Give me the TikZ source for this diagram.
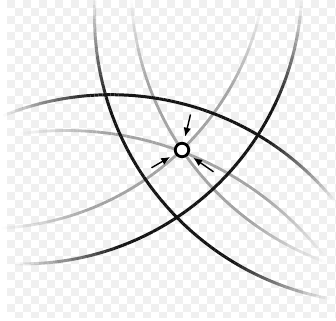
\documentclass[tikz,border=0pt]{standalone}
\usetikzlibrary{arrows.meta}
\newcommand{\fadearc}[7]{% cx, cy, r, a1, a2, style, max opacity
  \foreach \i in {0,...,89}{%
    \pgfmathsetmacro{\ta}{#4+(#5-#4)*\i/90}%
    \pgfmathsetmacro{\tb}{#4+(#5-#4)*(\i+1)/90}%
    \pgfmathsetmacro{\tm}{(\i+0.5)/90}%
    \pgfmathsetmacro{\op}{#7*min(1,min(4*\tm,4*(1-\tm)))}%
    \draw[#6, opacity=\op] ({#1+#3*cos(\ta)},{#2+#3*sin(\ta)}) -- ({#1+#3*cos(\tb)},{#2+#3*sin(\tb)});
  }%
}
\begin{document}
\begin{tikzpicture}[x=1pt,y=-1pt,
  chk/.style={fill=black!6},
  blk/.style={draw=black!92, line width=3pt, line cap=butt},
  gry/.style={draw=black!36, line width=2.8pt, line cap=butt},
  dot/.style={circle, draw=black, fill=white, line width=2.8pt, inner sep=0pt, minimum size=13.5pt},
  arr/.style={line width=1.4pt, -{Latex[length=9pt,width=7.5pt]}, shorten >=5.5pt}]
\useasboundingbox (0,0) rectangle (336,320);
% checker background
\fill[white] (0,0) rectangle (336,320);
\begin{scope}
\clip (7,0) rectangle (336,317);
\foreach \r in {0,...,39}{\foreach \c in {0,...,41}{%
  \pgfmathtruncatemacro{\chkpar}{mod(\r+\c,2)}%
  \ifnum\chkpar=0 \fill[chk] ({7+8*\c},{8*\r}) rectangle ++(8,8);\fi}}
\end{scope}
% gray arcs
\fadearc{427}{-16}{296}{177}{110}{gry}{1}
\fadearc{-13}{-52}{280.5}{12}{87}{gry}{1}
\fadearc{66}{458}{327.5}{-98}{-38}{gry}{1}
% black arcs
\fadearc{382}{16}{287.5}{184}{100.5}{blk}{1}
\fadearc{22.5}{-15.6}{279.5}{3.5}{91.5}{blk}{1}
\fadearc{111.1}{382.3}{287.6}{-112}{-39}{blk}{1}
% centre and arrows
\node[dot] (c) at (182,150) {};
\coordinate (p1) at (190.5,114.5);
\coordinate (p2) at (151.5,167.8);
\coordinate (p3) at (213.5,171.8);
\draw[arr] (p1) -- (c);
\draw[arr] (p2) -- (c);
\draw[arr] (p3) -- (c);
\end{tikzpicture}
\end{document}
